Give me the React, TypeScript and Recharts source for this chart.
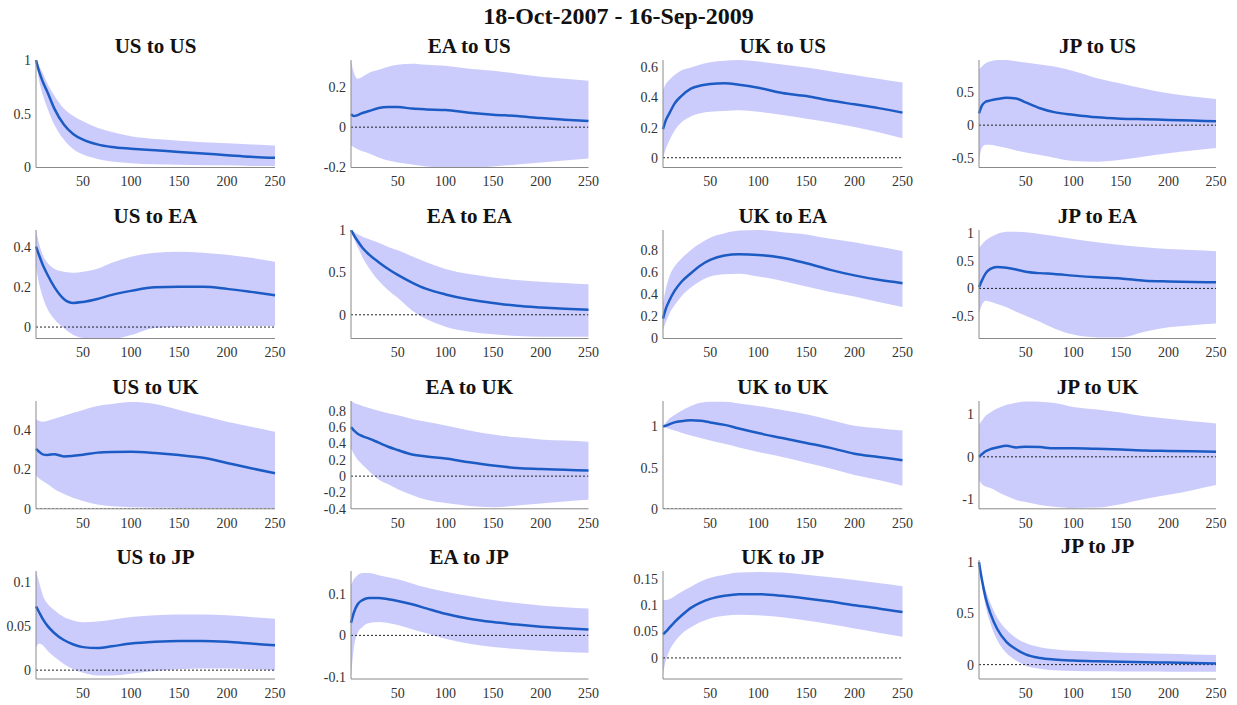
import { ComposedChart, Area, Line, XAxis, YAxis, ReferenceLine } from 'recharts';

const STEPS = [1, 4, 8, 13, 20, 30, 40, 50, 65, 80, 100, 125, 150, 175, 200, 225, 250];
const X_TICKS = [50, 100, 150, 200, 250];

// row 1: responses of US
const US_US_MEAN = [1.0, 0.9, 0.8, 0.7, 0.55, 0.4, 0.31, 0.26, 0.215, 0.19, 0.175, 0.16, 0.145, 0.13, 0.115, 0.1, 0.09];
const US_US_LO = [1.0, 0.82, 0.68, 0.55, 0.4, 0.26, 0.17, 0.12, 0.08, 0.055, 0.04, 0.03, 0.025, 0.02, 0.02, 0.015, 0.015];
const US_US_HI = [1.0, 0.95, 0.88, 0.78, 0.67, 0.55, 0.48, 0.43, 0.37, 0.33, 0.29, 0.265, 0.25, 0.235, 0.225, 0.215, 0.205];

const EA_US_MEAN = [0.065, 0.055, 0.06, 0.07, 0.08, 0.095, 0.1, 0.1, 0.092, 0.088, 0.085, 0.072, 0.062, 0.055, 0.045, 0.037, 0.03];
const EA_US_LO = [-0.09, -0.1, -0.11, -0.12, -0.13, -0.15, -0.165, -0.175, -0.185, -0.195, -0.2, -0.2, -0.195, -0.185, -0.175, -0.165, -0.155];
const EA_US_HI = [0.33, 0.27, 0.24, 0.25, 0.27, 0.285, 0.3, 0.31, 0.315, 0.31, 0.305, 0.29, 0.28, 0.265, 0.25, 0.24, 0.23];

const UK_US_MEAN = [0.19, 0.25, 0.3, 0.36, 0.41, 0.46, 0.48, 0.49, 0.495, 0.485, 0.465, 0.43, 0.41, 0.38, 0.355, 0.33, 0.3];
const UK_US_LO = [0.0, 0.06, 0.12, 0.18, 0.235, 0.275, 0.295, 0.305, 0.31, 0.315, 0.305, 0.285, 0.26, 0.235, 0.205, 0.17, 0.13];
const UK_US_HI = [0.45, 0.49, 0.52, 0.55, 0.58, 0.6, 0.62, 0.635, 0.645, 0.65, 0.64, 0.62, 0.6, 0.575, 0.55, 0.525, 0.5];

const JP_US_MEAN = [0.18, 0.3, 0.36, 0.38, 0.4, 0.42, 0.41, 0.35, 0.26, 0.2, 0.16, 0.12, 0.1, 0.09, 0.08, 0.07, 0.06];
const JP_US_LO = [-0.55, -0.35, -0.3, -0.3, -0.32, -0.35, -0.39, -0.42, -0.46, -0.5, -0.55, -0.56, -0.53, -0.48, -0.43, -0.39, -0.35];
const JP_US_HI = [0.85, 0.9, 0.95, 0.98, 1.0, 1.0, 0.98, 0.96, 0.93, 0.9, 0.83, 0.72, 0.64, 0.56, 0.49, 0.44, 0.4];

// row 2: responses of EA
const US_EA_MEAN = [0.4, 0.36, 0.31, 0.26, 0.2, 0.14, 0.12, 0.125, 0.14, 0.16, 0.18, 0.198, 0.2, 0.2, 0.19, 0.175, 0.158];
const US_EA_LO = [0.3, 0.22, 0.15, 0.09, 0.04, -0.005, -0.04, -0.055, -0.06, -0.06, -0.04, -0.005, 0.0, 0.005, 0.005, 0.005, 0.005];
const US_EA_HI = [0.48, 0.42, 0.36, 0.32, 0.29, 0.275, 0.27, 0.275, 0.29, 0.32, 0.35, 0.37, 0.375, 0.37, 0.36, 0.345, 0.325];

const EA_EA_MEAN = [1.0, 0.94, 0.87, 0.79, 0.71, 0.62, 0.54, 0.47, 0.38, 0.305, 0.24, 0.18, 0.14, 0.105, 0.085, 0.07, 0.06];
const EA_EA_LO = [1.0, 0.9, 0.8, 0.68, 0.55, 0.4, 0.29, 0.2, 0.05, -0.05, -0.14, -0.2, -0.23, -0.25, -0.26, -0.26, -0.26];
const EA_EA_HI = [1.0, 0.98, 0.95, 0.92, 0.89, 0.85, 0.8, 0.76, 0.69, 0.62, 0.54, 0.48, 0.44, 0.41, 0.39, 0.375, 0.36];

const UK_EA_MEAN = [0.18, 0.27, 0.35, 0.43, 0.51, 0.59, 0.66, 0.71, 0.75, 0.76, 0.755, 0.73, 0.68, 0.62, 0.57, 0.53, 0.5];
const UK_EA_LO = [0.08, 0.15, 0.23, 0.3, 0.38, 0.46, 0.52, 0.56, 0.58, 0.585, 0.56, 0.52, 0.47, 0.42, 0.38, 0.33, 0.285];
const UK_EA_HI = [0.32, 0.45, 0.57, 0.65, 0.72, 0.8, 0.86, 0.91, 0.95, 0.975, 0.98, 0.96, 0.94, 0.9, 0.87, 0.83, 0.79];

const JP_EA_MEAN = [0.02, 0.14, 0.27, 0.35, 0.385, 0.37, 0.34, 0.3, 0.275, 0.26, 0.23, 0.2, 0.18, 0.14, 0.125, 0.115, 0.11];
const JP_EA_LO = [-0.45, -0.3, -0.22, -0.24, -0.28, -0.34, -0.42, -0.49, -0.6, -0.72, -0.83, -0.88, -0.88, -0.78, -0.7, -0.66, -0.63];
const JP_EA_HI = [0.73, 0.79, 0.86, 0.92, 0.98, 1.02, 1.02, 1.01, 0.98, 0.94, 0.89, 0.83, 0.78, 0.74, 0.71, 0.69, 0.67];

// row 3: responses of UK
const US_UK_MEAN = [0.303, 0.29, 0.275, 0.272, 0.276, 0.265, 0.268, 0.273, 0.284, 0.287, 0.288, 0.282, 0.272, 0.258, 0.232, 0.205, 0.18];
const US_UK_LO = [0.17, 0.155, 0.14, 0.125, 0.1, 0.075, 0.055, 0.04, 0.022, 0.013, 0.008, 0.005, 0.004, 0.003, 0.003, 0.003, 0.003];
const US_UK_HI = [0.45, 0.445, 0.44, 0.445, 0.455, 0.47, 0.485, 0.5, 0.52, 0.53, 0.54, 0.53, 0.5, 0.47, 0.44, 0.415, 0.39];

const EA_UK_MEAN = [0.6, 0.56, 0.52, 0.49, 0.46, 0.41, 0.36, 0.32, 0.265, 0.24, 0.215, 0.17, 0.13, 0.1, 0.088, 0.078, 0.068];
const EA_UK_LO = [0.34, 0.27, 0.2, 0.14, 0.06, -0.04, -0.1, -0.16, -0.23, -0.29, -0.33, -0.365, -0.38, -0.36, -0.335, -0.31, -0.29];
const EA_UK_HI = [0.92, 0.9, 0.88, 0.86, 0.835, 0.8, 0.77, 0.745, 0.7, 0.665, 0.62, 0.56, 0.51, 0.475, 0.45, 0.435, 0.42];

const UK_UK_MEAN = [1.0, 1.01, 1.03, 1.05, 1.065, 1.075, 1.07, 1.05, 1.02, 0.975, 0.92, 0.86, 0.8, 0.74, 0.67, 0.63, 0.59];
const UK_UK_LO = [1.0, 0.985, 0.97, 0.95, 0.925, 0.89, 0.86, 0.83, 0.79, 0.745, 0.69, 0.63, 0.56, 0.49, 0.41, 0.35, 0.28];
const UK_UK_HI = [1.0, 1.05, 1.1, 1.14, 1.19, 1.25, 1.29, 1.3, 1.3, 1.28, 1.25, 1.2, 1.15, 1.08, 1.01, 0.98, 0.95];

const JP_UK_MEAN = [0.0, 0.06, 0.13, 0.18, 0.22, 0.26, 0.22, 0.24, 0.23, 0.2, 0.2, 0.19, 0.175, 0.15, 0.14, 0.13, 0.12];
const JP_UK_LO = [-0.55, -0.65, -0.7, -0.74, -0.82, -0.93, -1.02, -1.07, -1.14, -1.18, -1.21, -1.2, -1.12, -1.0, -0.9, -0.79, -0.67];
const JP_UK_HI = [0.75, 0.85, 0.97, 1.05, 1.14, 1.23, 1.28, 1.31, 1.3, 1.27, 1.18, 1.12, 1.05, 0.96, 0.9, 0.84, 0.79];

// row 4: responses of JP
const US_JP_MEAN = [0.072, 0.066, 0.058, 0.05, 0.042, 0.034, 0.029, 0.026, 0.025, 0.027, 0.03, 0.032, 0.033, 0.033, 0.032, 0.03, 0.028];
const US_JP_LO = [0.025, 0.03, 0.028, 0.022, 0.015, 0.007, 0.001, -0.003, -0.006, -0.006, -0.004, -0.001, 0.001, 0.002, 0.002, 0.001, 0.0];
const US_JP_HI = [0.112, 0.1, 0.085, 0.075, 0.068, 0.06, 0.056, 0.054, 0.055, 0.057, 0.06, 0.062, 0.063, 0.063, 0.062, 0.06, 0.058];

const EA_JP_MEAN = [0.03, 0.055, 0.075, 0.085, 0.09, 0.09, 0.087, 0.083, 0.075, 0.065, 0.052, 0.04, 0.032, 0.026, 0.021, 0.017, 0.014];
const EA_JP_LO = [-0.1, -0.03, 0.005, 0.02, 0.03, 0.032, 0.03, 0.025, 0.015, 0.005, -0.008, -0.02, -0.028, -0.033, -0.037, -0.04, -0.042];
const EA_JP_HI = [0.12, 0.135, 0.145, 0.15, 0.15, 0.145, 0.14, 0.135, 0.125, 0.115, 0.105, 0.095, 0.085, 0.078, 0.072, 0.068, 0.065];

const UK_JP_MEAN = [0.045, 0.05, 0.058, 0.068, 0.08, 0.095, 0.105, 0.112, 0.118, 0.121, 0.121, 0.118, 0.113, 0.107, 0.1, 0.094, 0.087];
const UK_JP_LO = [-0.03, -0.005, 0.015, 0.03, 0.045, 0.058, 0.068, 0.075, 0.08, 0.082, 0.081, 0.077, 0.071, 0.064, 0.056, 0.048, 0.04];
const UK_JP_HI = [0.11, 0.11, 0.112, 0.117, 0.125, 0.135, 0.145, 0.152, 0.158, 0.162, 0.163, 0.162, 0.158, 0.153, 0.148, 0.142, 0.136];

const JP_JP_MEAN = [1.0, 0.83, 0.65, 0.5, 0.35, 0.22, 0.15, 0.1, 0.065, 0.05, 0.04, 0.033, 0.028, 0.024, 0.02, 0.016, 0.012];
const JP_JP_LO = [1.0, 0.78, 0.57, 0.4, 0.24, 0.11, 0.04, -0.01, -0.04, -0.055, -0.062, -0.065, -0.067, -0.068, -0.069, -0.07, -0.07];
const JP_JP_HI = [1.0, 0.87, 0.73, 0.6, 0.46, 0.34, 0.26, 0.21, 0.17, 0.15, 0.135, 0.125, 0.115, 0.11, 0.105, 0.1, 0.095];

interface PanelSpec {
  title: string;
  mean: number[];
  lo: number[];
  hi: number[];
  domain: [number, number];
  ticks: number[];
  top?: number;
}

const PANELS: PanelSpec[][] = [
  [
    { title: 'US to US', mean: US_US_MEAN, lo: US_US_LO, hi: US_US_HI, domain: [0, 1], ticks: [0, 0.5, 1] },
    { title: 'EA to US', mean: EA_US_MEAN, lo: EA_US_LO, hi: EA_US_HI, domain: [-0.2, 0.333], ticks: [-0.2, 0, 0.2] },
    { title: 'UK to US', mean: UK_US_MEAN, lo: UK_US_LO, hi: UK_US_HI, domain: [-0.065, 0.65], ticks: [0, 0.2, 0.4, 0.6] },
    { title: 'JP to US', mean: JP_US_MEAN, lo: JP_US_LO, hi: JP_US_HI, domain: [-0.65, 1.0], ticks: [-0.5, 0, 0.5] },
  ],
  [
    { title: 'US to EA', mean: US_EA_MEAN, lo: US_EA_LO, hi: US_EA_HI, domain: [-0.057, 0.483], ticks: [0, 0.2, 0.4] },
    { title: 'EA to EA', mean: EA_EA_MEAN, lo: EA_EA_LO, hi: EA_EA_HI, domain: [-0.28, 1.0], ticks: [0, 0.5, 1] },
    { title: 'UK to EA', mean: UK_EA_MEAN, lo: UK_EA_LO, hi: UK_EA_HI, domain: [0, 0.98], ticks: [0, 0.2, 0.4, 0.6, 0.8] },
    { title: 'JP to EA', mean: JP_EA_MEAN, lo: JP_EA_LO, hi: JP_EA_HI, domain: [-0.9, 1.05], ticks: [-0.5, 0, 0.5, 1] },
  ],
  [
    { title: 'US to UK', mean: US_UK_MEAN, lo: US_UK_LO, hi: US_UK_HI, domain: [0, 0.545], ticks: [0, 0.2, 0.4] },
    { title: 'EA to UK', mean: EA_UK_MEAN, lo: EA_UK_LO, hi: EA_UK_HI, domain: [-0.4, 0.92], ticks: [-0.4, -0.2, 0, 0.2, 0.4, 0.6, 0.8] },
    { title: 'UK to UK', mean: UK_UK_MEAN, lo: UK_UK_LO, hi: UK_UK_HI, domain: [0, 1.31], ticks: [0, 0.5, 1] },
    { title: 'JP to UK', mean: JP_UK_MEAN, lo: JP_UK_LO, hi: JP_UK_HI, domain: [-1.23, 1.32], ticks: [-1, 0, 1] },
  ],
  [
    { title: 'US to JP', mean: US_JP_MEAN, lo: US_JP_LO, hi: US_JP_HI, domain: [-0.01, 0.112], ticks: [0, 0.05, 0.1] },
    { title: 'EA to JP', mean: EA_JP_MEAN, lo: EA_JP_LO, hi: EA_JP_HI, domain: [-0.105, 0.155], ticks: [-0.1, 0, 0.1] },
    { title: 'UK to JP', mean: UK_JP_MEAN, lo: UK_JP_LO, hi: UK_JP_HI, domain: [-0.04, 0.165], ticks: [0, 0.05, 0.1, 0.15] },
    { title: 'JP to JP', mean: JP_JP_MEAN, lo: JP_JP_LO, hi: JP_JP_HI, domain: [-0.14, 1.02], ticks: [0, 0.5, 1], top: 560 },
  ],
];

const COL_LEFT = [36, 350.5, 663, 979];
const COL_W = [239, 237.5, 239.5, 237];
const ROW_TOP = [60, 230, 400.5, 571];
const ROW_BOTTOM = [167.5, 338.5, 508.3, 679];

const Y_W = 40;
const X_H = 26;
const PAD = 8;
const RIGHT = 14;

const FONT = "'Liberation Serif', 'Times New Roman', serif";
const BAND = '#ccccfc';
const LINE = '#1c5bc4';
const AXIS = '#8a8a8a';
const TEXT = '#333';

function fmt(v: number): string {
  return String(Number(v.toFixed(3)));
}

function XTick(props: any) {
  const { x, y, payload } = props;
  return (
    <text x={x} y={y} dy="0.71em" textAnchor="middle" fontSize={14} fill={TEXT} style={{ fontFamily: FONT }}>
      {fmt(payload.value)}
    </text>
  );
}

function YTick(props: any) {
  const { x, y, payload } = props;
  return (
    <text x={x} y={y} dy="0.35em" textAnchor="end" fontSize={14} fill={TEXT} style={{ fontFamily: FONT }}>
      {fmt(payload.value)}
    </text>
  );
}

function Panel({ spec, left, top, width, bottom }: { spec: PanelSpec; left: number; top: number; width: number; bottom: number }) {
  const height = bottom - top;
  const data = STEPS.map((s, i) => ({ step: s, mean: spec.mean[i], band: [spec.lo[i], spec.hi[i]] }));
  return (
    <>
      <div
        style={{
          position: 'absolute',
          left,
          top: top - 26,
          width,
          height: 24,
          lineHeight: '24px',
          textAlign: 'center',
          fontFamily: FONT,
          fontWeight: 'bold',
          fontSize: 21,
          color: '#111',
        }}
      >
        {spec.title}
      </div>
      <div style={{ position: 'absolute', left: left - Y_W, top: top - PAD }}>
        <ComposedChart
          width={Y_W + width + RIGHT}
          height={PAD + height + X_H}
          data={data}
          margin={{ top: PAD, right: RIGHT, left: 0, bottom: 0 }}
        >
          <XAxis
            dataKey="step"
            type="number"
            domain={[1, 250]}
            ticks={X_TICKS}
            interval={0}
            height={X_H}
            tickLine={false}
            tickSize={0}
            tickMargin={9}
            stroke={AXIS}
            tick={<XTick />}
          />
          <YAxis
            type="number"
            domain={spec.domain}
            allowDataOverflow
            ticks={spec.ticks}
            interval={0}
            width={Y_W}
            tickLine={false}
            tickSize={0}
            tickMargin={5}
            stroke={AXIS}
            tick={<YTick />}
          />
          <Area
            dataKey="band"
            type="monotone"
            fill={BAND}
            fillOpacity={1}
            stroke="none"
            isAnimationActive={false}
          />
          <ReferenceLine y={0} stroke="#222" strokeDasharray="2 2" strokeWidth={1} ifOverflow="hidden" />
          <Line
            dataKey="mean"
            type="monotone"
            stroke={LINE}
            strokeWidth={2.5}
            dot={false}
            isAnimationActive={false}
          />
        </ComposedChart>
      </div>
    </>
  );
}

export default function App() {
  return (
    <div style={{ position: 'absolute', left: 0, top: 0, width: 1237, height: 705, background: '#fff', overflow: 'hidden' }}>
      <div
        style={{
          position: 'absolute',
          left: 0,
          top: 3,
          width: 1237,
          textAlign: 'center',
          fontFamily: FONT,
          fontWeight: 'bold',
          fontSize: 24,
          color: '#111',
        }}
      >
        18-Oct-2007 - 16-Sep-2009
      </div>
      {PANELS.map((row, r) =>
        row.map((spec, c) => (
          <Panel
            key={spec.title}
            spec={spec}
            left={COL_LEFT[c]}
            top={spec.top ?? ROW_TOP[r]}
            width={COL_W[c]}
            bottom={ROW_BOTTOM[r]}
          />
        ))
      )}
    </div>
  );
}
